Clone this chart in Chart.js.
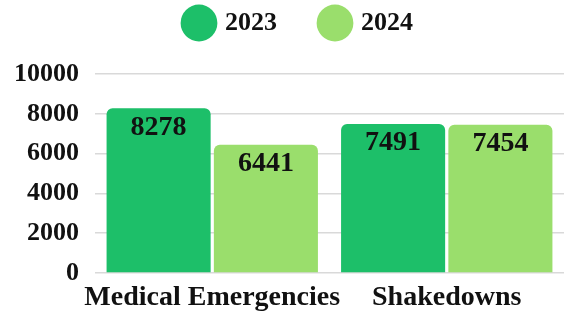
<!DOCTYPE html>
<html><head><meta charset="utf-8">
<script src="https://cdn.jsdelivr.net/npm/chart.js@4/dist/chart.umd.min.js"></script>
<style>html,body{margin:0;padding:0;background:#fff;}#wrap{width:564px;height:318px;}</style>
</head><body><div id="wrap"><canvas id="c" width="564" height="318"></canvas></div>
<script>
const categories = ["Medical Emergencies", "Shakedowns"];
const seriesNames = ["2023", "2024"];
const values2023 = [8278, 7491];
const values2024 = [6441, 7454];
const yTicks = [0, 2000, 4000, 6000, 8000, 10000];
const colors = ["#1dbf69", "#9ade6c"];
const FONT = "'Liberation Serif', 'Times New Roman', serif";

// value labels inside bar tops + category labels under the x scale
const textLabels = {
  id: 'textLabels',
  afterDatasetsDraw(chart) {
    const ctx = chart.ctx;
    ctx.save();
    ctx.fillStyle = "#111";
    ctx.textAlign = "center";
    ctx.font = "bold 28px " + FONT;
    ctx.textBaseline = "top";
    chart.data.datasets.forEach((ds, i) => {
      chart.getDatasetMeta(i).data.forEach((bar, j) => {
        ctx.fillText(String(ds.data[j]), bar.x, bar.y + 5);
      });
    });
    const xs = chart.scales.x;
    ctx.textBaseline = "middle";
    chart.data.labels.forEach((lab, i) => {
      ctx.fillText(lab, xs.getPixelForValue(i), chart.chartArea.bottom + 25);
    });
    ctx.restore();
  }
};

const LEGEND_DX = 10, LEGEND_DY = -28;
const legendShift = {
  id: 'legendShift',
  beforeDraw(chart) {
    const lg = chart.legend;
    if (!lg || lg._shifted) return;
    lg.left += LEGEND_DX; lg.right += LEGEND_DX;
    lg.top += LEGEND_DY; lg.bottom += LEGEND_DY;
    lg._shifted = true;
  }
};

new Chart(document.getElementById('c'), {
  type: 'bar',
  data: {
    labels: categories,
    datasets: [
      { label: seriesNames[0], data: values2023, backgroundColor: colors[0], borderRadius: {topLeft: 6, topRight: 6}, borderSkipped: 'bottom' },
      { label: seriesNames[1], data: values2024, backgroundColor: colors[1], borderRadius: {topLeft: 6, topRight: 6}, borderSkipped: 'bottom' }
    ]
  },
  options: {
    responsive: false,
    animation: false,
    devicePixelRatio: 1,
    layout: { padding: { left: 15, right: 0, top: -7, bottom: 37 } },
    datasets: { bar: { categoryPercentage: 0.915, barPercentage: 0.97 } },
    plugins: {
      legend: {
        position: 'top',
        labels: {
          usePointStyle: true,
          pointStyle: 'circle',
          boxHeight: 26,
          boxWidth: 26,
          padding: 45,
          color: '#111',
          font: { family: FONT, size: 26, weight: 'bold' }
        }
      },
      tooltip: { enabled: false }
    },
    scales: {
      x: {
        grid: { display: false },
        border: { display: false },
        ticks: { display: false }
      },
      y: {
        min: 0, max: 10000,
        afterBuildTicks(axis) { axis.ticks = yTicks.map(v => ({ value: v })); },
        afterFit(axis) { axis.width = 80; },
        grid: { color: '#d9d9d9', lineWidth: 1.5, drawTicks: false },
        border: { display: false },
        ticks: { color: '#111', padding: 16, autoSkip: false, callback: v => String(v), font: { family: FONT, size: 26, weight: 'bold' } }
      }
    }
  },
  plugins: [textLabels, legendShift]
});
</script></body></html>
